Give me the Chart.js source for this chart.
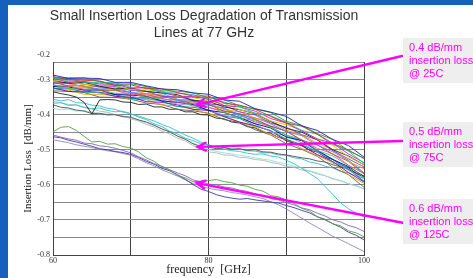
<!DOCTYPE html>
<html>
<head>
<meta charset="utf-8">
<script src="https://cdn.jsdelivr.net/npm/chart.js@4/dist/chart.umd.min.js"></script>
<style>
  html, body { margin: 0; padding: 0; background: #1560bd; }
  #wrap { width: 473px; height: 278px; }
</style>
</head>
<body>
<div id="wrap"><canvas id="lossChart" width="473" height="278"></canvas></div>
<script>
  // frecuencias (GHz)
  const freqCoarse = [60,62,64,66,68,70,72,74,76,78,80,82,84,86,88,90,92,94,96,98,100];
  const freqFine = [60,61,62,63,64,65,66,67,68,69,70,71,72,73,74,75,76,77,78,79,80,
                    81,82,83,84,85,86,87,88,89,90,91,92,93,94,95,96,97,98,99,100];

  // pérdidas en mdB/mm
  // 25C: el haz principal (sobre freqCoarse)
  const loss25C = [
    [-287,-297,-296,-297,-308,-308,-318,-327,-329,-338,-342,-358,-362,-383,-393,-405,-432,-445,-471,-488,-521],
    [-295,-295,-295,-306,-313,-312,-320,-332,-333,-338,-352,-357,-375,-384,-394,-419,-431,-454,-471,-503,-524],
    [-291,-301,-302,-304,-317,-315,-326,-326,-337,-347,-347,-367,-373,-385,-405,-424,-433,-456,-482,-501,-525],
    [-298,-297,-308,-308,-309,-322,-323,-336,-339,-343,-358,-364,-378,-396,-403,-422,-445,-456,-485,-504,-539],
    [-296,-308,-305,-313,-313,-325,-323,-337,-347,-349,-355,-374,-378,-390,-411,-424,-447,-469,-482,-512,-537],
    [-303,-305,-315,-311,-317,-329,-330,-333,-348,-351,-362,-368,-386,-396,-418,-429,-445,-471,-488,-520,-543],
    [-302,-311,-308,-319,-327,-324,-334,-338,-343,-360,-362,-378,-386,-397,-419,-439,-450,-472,-500,-518,-543],
    [-310,-308,-313,-322,-320,-331,-333,-348,-349,-358,-369,-374,-392,-401,-424,-436,-457,-472,-503,-526,-549],
    [-305,-312,-321,-320,-329,-327,-341,-344,-357,-358,-367,-386,-392,-410,-420,-444,-458,-482,-500,-534,-554],
    [-312,-311,-320,-327,-324,-337,-340,-345,-360,-362,-373,-381,-401,-409,-426,-448,-460,-487,-506,-530,-566],
    [-308,-318,-318,-331,-330,-336,-347,-347,-358,-369,-370,-391,-397,-413,-433,-447,-473,-486,-513,-533,-569],
    [-317,-318,-328,-328,-331,-342,-342,-354,-364,-364,-380,-389,-399,-422,-432,-447,-473,-496,-512,-544,-568],
    [-315,-326,-323,-330,-339,-339,-351,-355,-359,-375,-378,-394,-409,-418,-436,-458,-471,-502,-518,-545,-579],
    [-320,-321,-330,-330,-343,-344,-348,-361,-365,-371,-388,-394,-408,-426,-438,-464,-474,-502,-528,-548,-576],
    [-318,-328,-327,-339,-340,-346,-358,-358,-370,-373,-388,-402,-408,-427,-449,-461,-480,-507,-528,-559,-583],
    [-325,-325,-336,-336,-343,-354,-353,-362,-377,-379,-386,-404,-411,-432,-446,-470,-486,-505,-535,-556,-590],
    [-324,-334,-333,-337,-348,-350,-363,-365,-372,-385,-388,-406,-421,-432,-446,-475,-489,-514,-534,-565,-592],
    [-326,-330,-342,-342,-346,-357,-357,-372,-376,-384,-398,-405,-422,-435,-458,-470,-497,-516,-538,-571,-596],
    [-332,-334,-337,-350,-351,-356,-367,-371,-385,-389,-396,-414,-422,-443,-458,-483,-499,-519,-550,-571,-607],
    [-294,-304,-306,-318,-317,-330,-334,-339,-356,-360,-373,-383,-404,-415,-434,-459,-474,-504,-527,-553,-591]
  ];

  // 75C (sobre freqFine)
  const loss75C = [
    [-335,-340,-344,-350,-365,-398,-358,-357,-358,-364,-365,-371,-370,-378,-378,-385,-384,-392,-392,-400,-401,-410,-412,-421,-424,-434,-438,-449,-453,-465,-470,-482,-487,-501,-507,-521,-528,-543,-551,-568,-578],
    [-372,-379,-381,-387,-390,-397,-396,-401,-400,-406,-407,-415,-421,-430,-441,-449,-461,-470,-483,-491,-492,-497,-494,-499,-497,-502,-500,-506,-507,-512,-515,-519,-523,-526,-532,-535,-543,-549,-556,-566,-575],
    [-368,-366,-374,-372,-379,-383,-381,-388,-392,-390,-398,-404,-411,-418,-428,-436,-447,-458,-467,-478,-486,-493,-498,-503,-505,-510,-513,-512,-518,-521,-530,-540,-553,-568,-582,-605,-628,-652,-668,-681,-692],
    [-382,-386,-384,-390,-388,-393,-397,-395,-401,-405,-409,-416,-423,-431,-440,-450,-461,-470,-481,-490,-499,-505,-509,-512,-516,-519,-523,-527,-530,-536,-540,-547,-552,-560,-566,-574,-582,-589,-597,-604,-612],
    [-356,-361,-357,-366,-367,-373,-375,-382,-385,-393,-397,-407,-414,-426,-434,-447,-455,-467,-474,-483,-486,-492,-493,-498,-498,-503,-504,-509,-509,-515,-516,-523,-526,-535,-539,-547,-552,-562,-566,-575,-581],
    [-362,-366,-371,-373,-380,-384,-390,-393,-400,-403,-412,-418,-428,-435,-447,-455,-467,-475,-488,-495,-506,-509,-515,-516,-522,-523,-528,-530,-536,-540,-547,-550,-558,-561,-569,-574,-583,-588,-597,-602,-612]
  ];

  // 125C (sobre freqFine)
  const loss125C = [
    [-449,-436,-434,-445,-462,-478,-476,-484,-483,-491,-495,-506,-523,-533,-549,-558,-573,-580,-591,-590,-588,-585,-591,-594,-601,-604,-613,-618,-631,-634,-644,-653,-667,-675,-691,-698,-711,-717,-731,-737,-748],
    [-458,-464,-469,-473,-481,-483,-489,-491,-496,-502,-509,-520,-529,-540,-547,-557,-566,-574,-586,-591,-598,-600,-606,-609,-615,-619,-626,-630,-639,-643,-651,-657,-666,-671,-681,-689,-700,-706,-716,-722,-733],
    [-463,-466,-473,-478,-484,-490,-497,-500,-505,-508,-513,-522,-533,-541,-553,-560,-571,-584,-599,-612,-619,-628,-634,-638,-641,-639,-643,-646,-649,-652,-659,-665,-673,-680,-691,-700,-711,-721,-735,-744,-757],
    [-472,-476,-480,-486,-490,-494,-499,-503,-506,-511,-516,-526,-537,-546,-557,-566,-575,-586,-596,-604,-610,-614,-617,-622,-625,-629,-634,-639,-648,-657,-669,-682,-695,-709,-721,-734,-747,-757,-768,-779,-790]
  ];

  const colors25C = ['#2020c0','#20a020','#e02020','#20b8b8','#c020c0','#c8c800','#202020','#8040c0','#ff8c00','#4080ff',
                     '#a0522d','#ff40a0','#50c050','#000090','#9090ff','#008080','#900090','#e0a000','#606060','#00b0ff'];
  const colors75C = ['#202020','#505050','#2cc4c4','#8edede','#44b4cc','#b4b4b4'];
  const colors125C = ['#5a9e48','#8a64b4','#3c3ca4','#9484bc'];

  const xTickLabels = [60, 80, 100];
  const yTickLabels = [-0.3, -0.4, -0.5, -0.6, -0.7, -0.8];

  // notas y flechas (punta en coordenadas de datos)
  const notes = [
    ['0.4 dB/mm', 'insertion loss', '@ 25C'],
    ['0.5 dB/mm', 'insertion loss', '@ 75C'],
    ['0.6 dB/mm', 'insertion loss', '@ 125C']
  ];
  const arrowFreq = [78.5, 78.6, 78.5];
  const arrowLoss = [-0.372, -0.492, -0.595];

  const serif = '"Liberation Serif", "DejaVu Serif", serif';
  const sans = '"Liberation Sans", Arial, sans-serif';

  function serie(row, xs, color) {
    return {
      data: row.map((v, k) => ({ x: xs[k], y: v / 1000 })),
      borderColor: color,
      borderWidth: 0.9
    };
  }

  const datasets = [];
  loss25C.forEach((r, i) => datasets.push(serie(r, freqCoarse, colors25C[i])));
  loss75C.forEach((r, i) => datasets.push(serie(r, freqFine, colors75C[i])));
  loss125C.forEach((r, i) => datasets.push(serie(r, freqFine, colors125C[i])));

  const boxTops = [38, 122, 199];
  const arrowTails = [[402, 56], [402, 141], [404, 223]];

  const decor = {
    id: 'decor',
    beforeDraw(chart) {
      const c = chart.ctx;
      c.save();
      c.fillStyle = '#1560bd';
      c.fillRect(0, 0, chart.width, chart.height);
      c.fillStyle = '#ffffff';
      c.fillRect(8, 5, chart.width - 8, chart.height - 5);
      c.restore();
    },
    afterDatasetsDraw(chart) {
      const c = chart.ctx;
      const sx = chart.scales.x, sy = chart.scales.y;
      c.save();
      c.strokeStyle = '#ff00ff';
      c.lineWidth = 2.4;
      c.lineCap = 'round';
      arrowFreq.forEach((f, i) => {
        const hx = sx.getPixelForValue(f), hy = sy.getPixelForValue(arrowLoss[i]);
        const [tx, ty] = arrowTails[i];
        const ang = Math.atan2(ty - hy, tx - hx);
        c.beginPath();
        c.moveTo(tx, ty);
        c.lineTo(hx, hy);
        c.moveTo(hx + 9 * Math.cos(ang + 0.45), hy + 9 * Math.sin(ang + 0.45));
        c.lineTo(hx, hy);
        c.lineTo(hx + 9 * Math.cos(ang - 0.45), hy + 9 * Math.sin(ang - 0.45));
        c.stroke();
      });
      c.restore();
    },
    afterDraw(chart) {
      const c = chart.ctx;
      c.save();
      // título
      c.fillStyle = '#333333';
      c.font = '14px ' + sans;
      c.textAlign = 'center';
      c.textBaseline = 'middle';
      c.fillText('Small Insertion Loss Degradation of Transmission', 204, 16);
      c.fillText('Lines at 77 GHz', 204, 33);
      // etiqueta -0.2 arriba del marco
      c.font = '8px ' + serif;
      c.textAlign = 'right';
      c.fillText('-0.2', 50, 55);
      // cajas de notas
      notes.forEach((lines, i) => {
        c.fillStyle = '#eeeeee';
        c.fillRect(403, boxTops[i], 70, 45);
        c.fillStyle = '#ff00ff';
        c.font = '11px ' + sans;
        c.textAlign = 'left';
        lines.forEach((t, j) => c.fillText(t, 409, boxTops[i] + 10 + j * 13));
      });
      c.restore();
    }
  };

  new Chart(document.getElementById('lossChart'), {
    type: 'line',
    data: { datasets },
    options: {
      responsive: false,
      animation: false,
      layout: { padding: { left: 8, top: 62, right: 109, bottom: 0 } },
      elements: { point: { radius: 0 }, line: { tension: 0, fill: false } },
      plugins: { legend: { display: false }, tooltip: { enabled: false } },
      scales: {
        x: {
          type: 'linear', min: 60, max: 100,
          ticks: {
            stepSize: 10, padding: 1, maxRotation: 0, autoSkip: false,
            color: '#333', font: { family: serif, size: 8 },
            callback: v => xTickLabels.includes(v) ? String(v) : ''
          },
          grid: { color: '#444', drawTicks: false },
          border: { color: '#444' },
          title: { display: true, text: 'frequency  [GHz]', color: '#222',
                   font: { family: serif, size: 12 }, padding: { top: 0, bottom: 1 } },
          afterFit: s => { s.height = 23; }
        },
        y: {
          min: -0.8, max: -0.25,
          ticks: {
            stepSize: 0.05, padding: 3, autoSkip: false,
            color: '#333', font: { family: serif, size: 8 },
            callback: v => {
              const hit = yTickLabels.find(t => Math.abs(t - v) < 1e-6);
              return hit !== undefined ? hit.toFixed(1) : '';
            }
          },
          grid: { color: '#8a8a8a', drawTicks: false },
          border: { color: '#444' },
          title: { display: true, text: 'Insertion Loss  [dB/mm]', color: '#222',
                   font: { family: serif, size: 11 }, padding: { top: 14, bottom: 0 } },
          afterFit: s => { s.width = 45; }
        }
      }
    },
    plugins: [decor]
  });
</script>
</body>
</html>
